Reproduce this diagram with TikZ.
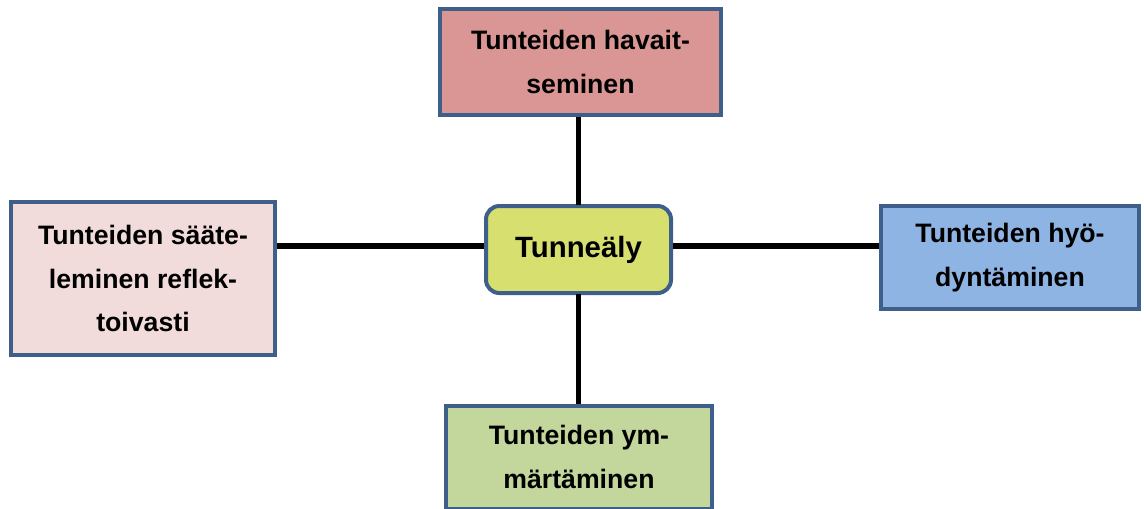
\documentclass[tikz,border=0pt]{standalone}
\usepackage{fontspec}
\setmainfont{Liberation Sans}
\definecolor{bord}{HTML}{3E5F8A}
\definecolor{ctop}{HTML}{D99694}
\definecolor{cleft}{HTML}{F2DCDB}
\definecolor{cright}{HTML}{8EB4E3}
\definecolor{cbot}{HTML}{C3D69B}
\definecolor{cmid}{HTML}{D7E06F}
\begin{document}
\begin{tikzpicture}[x=0.75pt,y=-0.75pt,
  box/.style={draw=bord, line width=3pt, align=center, inner sep=0pt,
    font=\fontsize{20}{32.5}\selectfont\bfseries},
  link/.style={line width=4.2pt, black}]
\useasboundingbox (0,0) rectangle (1144,508);
\node[box, fill=ctop, minimum width=210.75pt, minimum height=79.5pt] (top) at (580.5,62) {Tunteiden havait-\\seminen};
\node[box, fill=cleft, minimum width=198pt, minimum height=114.75pt] (left) at (143,278.5) {Tunteiden sääte-\\leminen reflek-\\toivasti};
\node[box, fill=cright, minimum width=193.5pt, minimum height=77.25pt] (right) at (1010,257.5) {Tunteiden hyö-\\dyntäminen};
\node[box, fill=cbot, minimum width=199.5pt, minimum height=77.25pt] (bot) at (579,457) {Tunteiden ym-\\märtäminen};
\node[box, fill=cmid, rounded corners=10pt, minimum width=138.75pt, minimum height=65.25pt,
  font=\fontsize{22}{26}\selectfont\bfseries] (mid) at (578.5,249.5) {Tunneäly};
\begin{scope}[on background layer/.style={}]
\end{scope}
\draw[link] ([yshift=-1pt]mid.north) -- (mid.north |- top.south);
\draw[link] ([yshift=1pt]mid.south) -- (mid.south |- bot.north);
\draw[link] ([yshift=2.6pt]mid.west) -- ([yshift=2.6pt]mid.west -| left.east);
\draw[link] ([yshift=2.6pt]mid.east) -- ([yshift=2.6pt]mid.east -| right.west);
\end{tikzpicture}
\end{document}
